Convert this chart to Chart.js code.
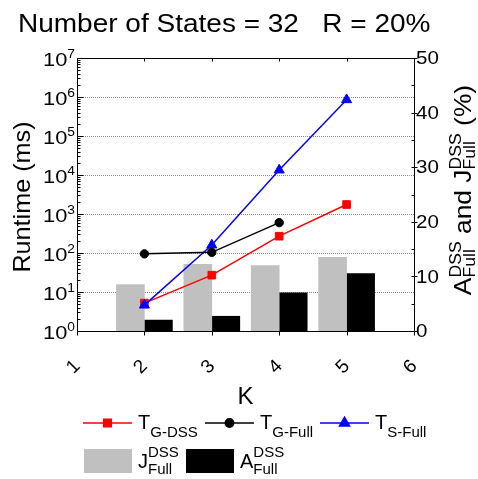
<!DOCTYPE html>
<html>
<head>
<meta charset="utf-8">
<script src="https://cdn.jsdelivr.net/npm/chart.js@4/dist/chart.umd.min.js"></script>
<style>
  html, body { margin: 0; padding: 0; background: #fff; }
  canvas { display: block; }
</style>
</head>
<body>
<canvas id="c" width="478" height="479"></canvas>
<script>
// Runtime per K (ms, log axis) and percentage bars (right axis)
const kValues = [2, 3, 4, 5];
const tGDss  = [5.2, 27, 270, 1750];
const tGFull = [95, 104, 600];
const tSFull = [4.6, 160, 13400, 850000];
const jFullDss = [8.5, 12.2, 12.0, 13.5];
const aFullDss = [2.0, 2.7, 7.0, 10.5];

const xTicks = [1, 2, 3, 4, 5, 6];
const yExponents = [0, 1, 2, 3, 4, 5, 6, 7];
const y2Ticks = [0, 10, 20, 30, 40, 50];

const FONT = '"Liberation Sans", Arial, Helvetica, sans-serif';
const RED = '#ff0000', BLUE = '#0000ff', BLACK = '#000000', GRAY = '#c0c0c0';

const pts = vals => vals.map((v, i) => ({ x: kValues[i], y: v }));

// Draw a run of text pieces; a piece is {t, s} (base) or {sup, sub, s} (stacked scripts).
function richWidth(ctx, parts) {
  let w = 0;
  for (const p of parts) {
    ctx.font = p.s + 'px ' + FONT;
    if (p.t !== undefined) w += ctx.measureText(p.t).width;
    else w += Math.max(p.sup ? ctx.measureText(p.sup).width : 0, p.sub ? ctx.measureText(p.sub).width : 0);
  }
  return w;
}
function richDraw(ctx, parts, x, y, supDy, subDy) {
  ctx.textAlign = 'left';
  ctx.textBaseline = 'alphabetic';
  for (const p of parts) {
    ctx.font = p.s + 'px ' + FONT;
    if (p.t !== undefined) {
      ctx.fillText(p.t, x, y);
      x += ctx.measureText(p.t).width;
    } else {
      let w = 0;
      if (p.sup) { ctx.fillText(p.sup, x, y + supDy); w = Math.max(w, ctx.measureText(p.sup).width); }
      if (p.sub) { ctx.fillText(p.sub, x, y + subDy); w = Math.max(w, ctx.measureText(p.sub).width); }
      x += w;
    }
  }
  return x;
}

const decorations = {
  id: 'decorations',
  beforeDatasetsDraw(chart) {
    const { ctx, chartArea: a, scales } = chart;
    // dotted decade grid lines
    ctx.save();
    ctx.strokeStyle = '#8c8c8c';
    ctx.lineWidth = 1;
    ctx.setLineDash([1, 1]);
    for (const e of yExponents) {
      if (e === 0 || e === 7) continue;
      const y = Math.round(scales.y.getPixelForValue(Math.pow(10, e))) + 0.5;
      ctx.beginPath(); ctx.moveTo(a.left, y); ctx.lineTo(a.right, y); ctx.stroke();
    }
    ctx.restore();
  },
  afterDraw(chart) {
    const { ctx, chartArea: a, scales } = chart;
    const xs = scales.x, ys = scales.y, y2 = scales.y2;
    ctx.save();
    ctx.fillStyle = BLACK;
    ctx.strokeStyle = BLACK;
    ctx.lineWidth = 1;
    ctx.setLineDash([]);

    // frame
    const L = Math.round(a.left) + 0.5, R = Math.round(a.right) + 0.5;
    const T = Math.round(a.top) + 0.5, B = Math.round(a.bottom) + 0.5;
    ctx.beginPath();
    ctx.rect(L, T, R - L, B - T);
    ctx.stroke();

    // left log ticks (inward)
    ctx.beginPath();
    for (const e of yExponents) {
      const y = Math.round(ys.getPixelForValue(Math.pow(10, e))) + 0.5;
      ctx.moveTo(L, y); ctx.lineTo(L + 6, y);
      if (e < 7) {
        for (let m = 2; m <= 9; m++) {
          const ym = Math.round(ys.getPixelForValue(m * Math.pow(10, e))) + 0.5;
          ctx.moveTo(L, ym); ctx.lineTo(L + 3, ym);
        }
      }
    }
    // right linear ticks
    for (let v = 0; v <= 50; v += 5) {
      const y = Math.round(y2.getPixelForValue(v)) + 0.5;
      if (v % 10 === 0) { ctx.moveTo(R - 3, y); ctx.lineTo(R + 3, y); }
      else { ctx.moveTo(R - 3, y); ctx.lineTo(R, y); }
    }
    // top and bottom ticks
    for (const k of xTicks) {
      const x = Math.round(xs.getPixelForValue(k)) + 0.5;
      ctx.moveTo(x, T); ctx.lineTo(x, T + 3);
      ctx.moveTo(x, B); ctx.lineTo(x, B + 4);
    }
    ctx.stroke();

    // title (slightly wide lettering)
    ctx.save();
    ctx.translate(18, 32);
    ctx.scale(1.12, 1);
    ctx.font = '25px ' + FONT;
    ctx.textAlign = 'left';
    ctx.textBaseline = 'alphabetic';
    ctx.fillText('Number of States = 32   R = 20%', 0, 0);
    ctx.restore();

    // left tick labels 10^n
    const sx = 1.15;
    for (const e of yExponents) {
      const y = ys.getPixelForValue(Math.pow(10, e));
      const parts = [{ t: '10', s: 19 }, { sup: String(e), s: 12 }];
      const w = richWidth(ctx, parts) * sx;
      ctx.save();
      ctx.translate(75 - w, y + 8);
      ctx.scale(sx, 1);
      richDraw(ctx, parts, 0, 0, -8, 0);
      ctx.restore();
    }

    // right tick labels
    for (const v of y2Ticks) {
      ctx.save();
      ctx.translate(416, y2.getPixelForValue(v) + 1);
      ctx.scale(1.08, 1);
      ctx.font = '19px ' + FONT;
      ctx.textAlign = 'left';
      ctx.textBaseline = 'middle';
      ctx.fillText(String(v), 0, 0);
      ctx.restore();
    }

    // x tick labels, rotated
    for (const k of xTicks) {
      const x = xs.getPixelForValue(k);
      ctx.save();
      ctx.translate(x - 3.5, 367);
      ctx.rotate(-Math.PI / 4);
      ctx.font = '19px ' + FONT;
      ctx.textAlign = 'center';
      ctx.textBaseline = 'middle';
      ctx.fillText(String(k), 0, 0);
      ctx.restore();
    }

    // axis titles
    ctx.font = '24px ' + FONT;
    ctx.textAlign = 'center';
    ctx.textBaseline = 'alphabetic';
    ctx.fillText('K', (a.left + a.right) / 2, 404);

    ctx.save();
    ctx.translate(30, 197);
    ctx.rotate(-Math.PI / 2);
    ctx.scale(1.05, 1);
    ctx.font = '24px ' + FONT;
    ctx.textAlign = 'center';
    ctx.fillText('Runtime (ms)', 0, 0);
    ctx.restore();

    const rightTitle = [
      { t: 'A', s: 24 }, { sup: 'DSS', sub: 'Full', s: 16 },
      { t: ' and J', s: 24 }, { sup: 'DSS', sub: 'Full', s: 16 },
      { t: ' (%)', s: 24 }
    ];
    const rsx = 1.1;
    const rw = richWidth(ctx, rightTitle) * rsx;
    ctx.save();
    ctx.translate(471, 190 + rw / 2);
    ctx.rotate(-Math.PI / 2);
    ctx.scale(rsx, 1);
    richDraw(ctx, rightTitle, 0, 0, -10, 4);
    ctx.restore();

    // legend
    const lineItems = [
      { color: RED, style: 'rect', r: 5.4, x0: 83, name: 'G-DSS' },
      { color: BLACK, style: 'circle', r: 4.2, x0: 205, name: 'G-Full' },
      { color: BLUE, style: 'triangle', r: 5.8, x0: 320, name: 'S-Full' }
    ];
    const ly = 423;
    for (const it of lineItems) {
      ctx.strokeStyle = it.color;
      ctx.fillStyle = it.color;
      ctx.lineWidth = 1.5;
      ctx.beginPath(); ctx.moveTo(it.x0, ly); ctx.lineTo(it.x0 + 49, ly); ctx.stroke();
      Chart.helpers.drawPoint(ctx, { pointStyle: it.style, radius: it.r, rotation: 0, borderWidth: 1 }, it.x0 + 24.5, ly);
      ctx.fillStyle = BLACK;
      richDraw(ctx, [{ t: 'T', s: 20 }, { sub: it.name, s: 15 }], it.x0 + 55, 429, -10, 8);
    }
    const boxItems = [
      { color: GRAY, x0: 84, letter: 'J' },
      { color: BLACK, x0: 186, letter: 'A' }
    ];
    for (const it of boxItems) {
      ctx.fillStyle = it.color;
      ctx.fillRect(it.x0, 449, 48, 24);
      ctx.fillStyle = BLACK;
      richDraw(ctx, [{ t: it.letter, s: 20 }, { sup: 'DSS', sub: 'Full', s: 15 }], it.x0 + 54, 468, -11, 6);
    }
    ctx.restore();
  }
};

const hidden = { display: false };

new Chart(document.getElementById('c').getContext('2d'), {
  type: 'bar',
  data: {
    datasets: [
      { type: 'line', label: 'T G-Full', data: pts(tGFull), yAxisID: 'y', order: 0,
        borderColor: BLACK, backgroundColor: BLACK, borderWidth: 1.5,
        pointStyle: 'circle', pointRadius: 4.2, pointBorderWidth: 1 },
      { type: 'line', label: 'T S-Full', data: pts(tSFull), yAxisID: 'y', order: 1,
        borderColor: BLUE, backgroundColor: BLUE, borderWidth: 1.5,
        pointStyle: 'triangle', pointRadius: 5.8, pointBorderWidth: 1 },
      { type: 'line', label: 'T G-DSS', data: pts(tGDss), yAxisID: 'y', order: 2,
        borderColor: RED, backgroundColor: RED, borderWidth: 1.5,
        pointStyle: 'rect', pointRadius: 5.4, pointBorderWidth: 1 },
      { type: 'bar', label: 'J Full DSS', data: pts(jFullDss), yAxisID: 'y2', order: 3,
        backgroundColor: GRAY, borderWidth: 0, barThickness: 28 },
      { type: 'bar', label: 'A Full DSS', data: pts(aFullDss), yAxisID: 'y2', order: 3,
        backgroundColor: BLACK, borderWidth: 0, barThickness: 28 }
    ]
  },
  options: {
    responsive: false,
    animation: false,
    events: [],
    layout: { padding: { left: 77, right: 64, top: 58, bottom: 148 } },
    plugins: { legend: hidden, tooltip: { enabled: false }, title: hidden },
    scales: {
      x: { type: 'linear', min: 1, max: 6, offset: false, display: false, grid: { offset: false } },
      y: { type: 'logarithmic', position: 'left', min: 1, max: 1e7, display: false },
      y2: { type: 'linear', position: 'right', min: 0, max: 50, display: false }
    }
  },
  plugins: [decorations]
});
</script>
</body>
</html>
